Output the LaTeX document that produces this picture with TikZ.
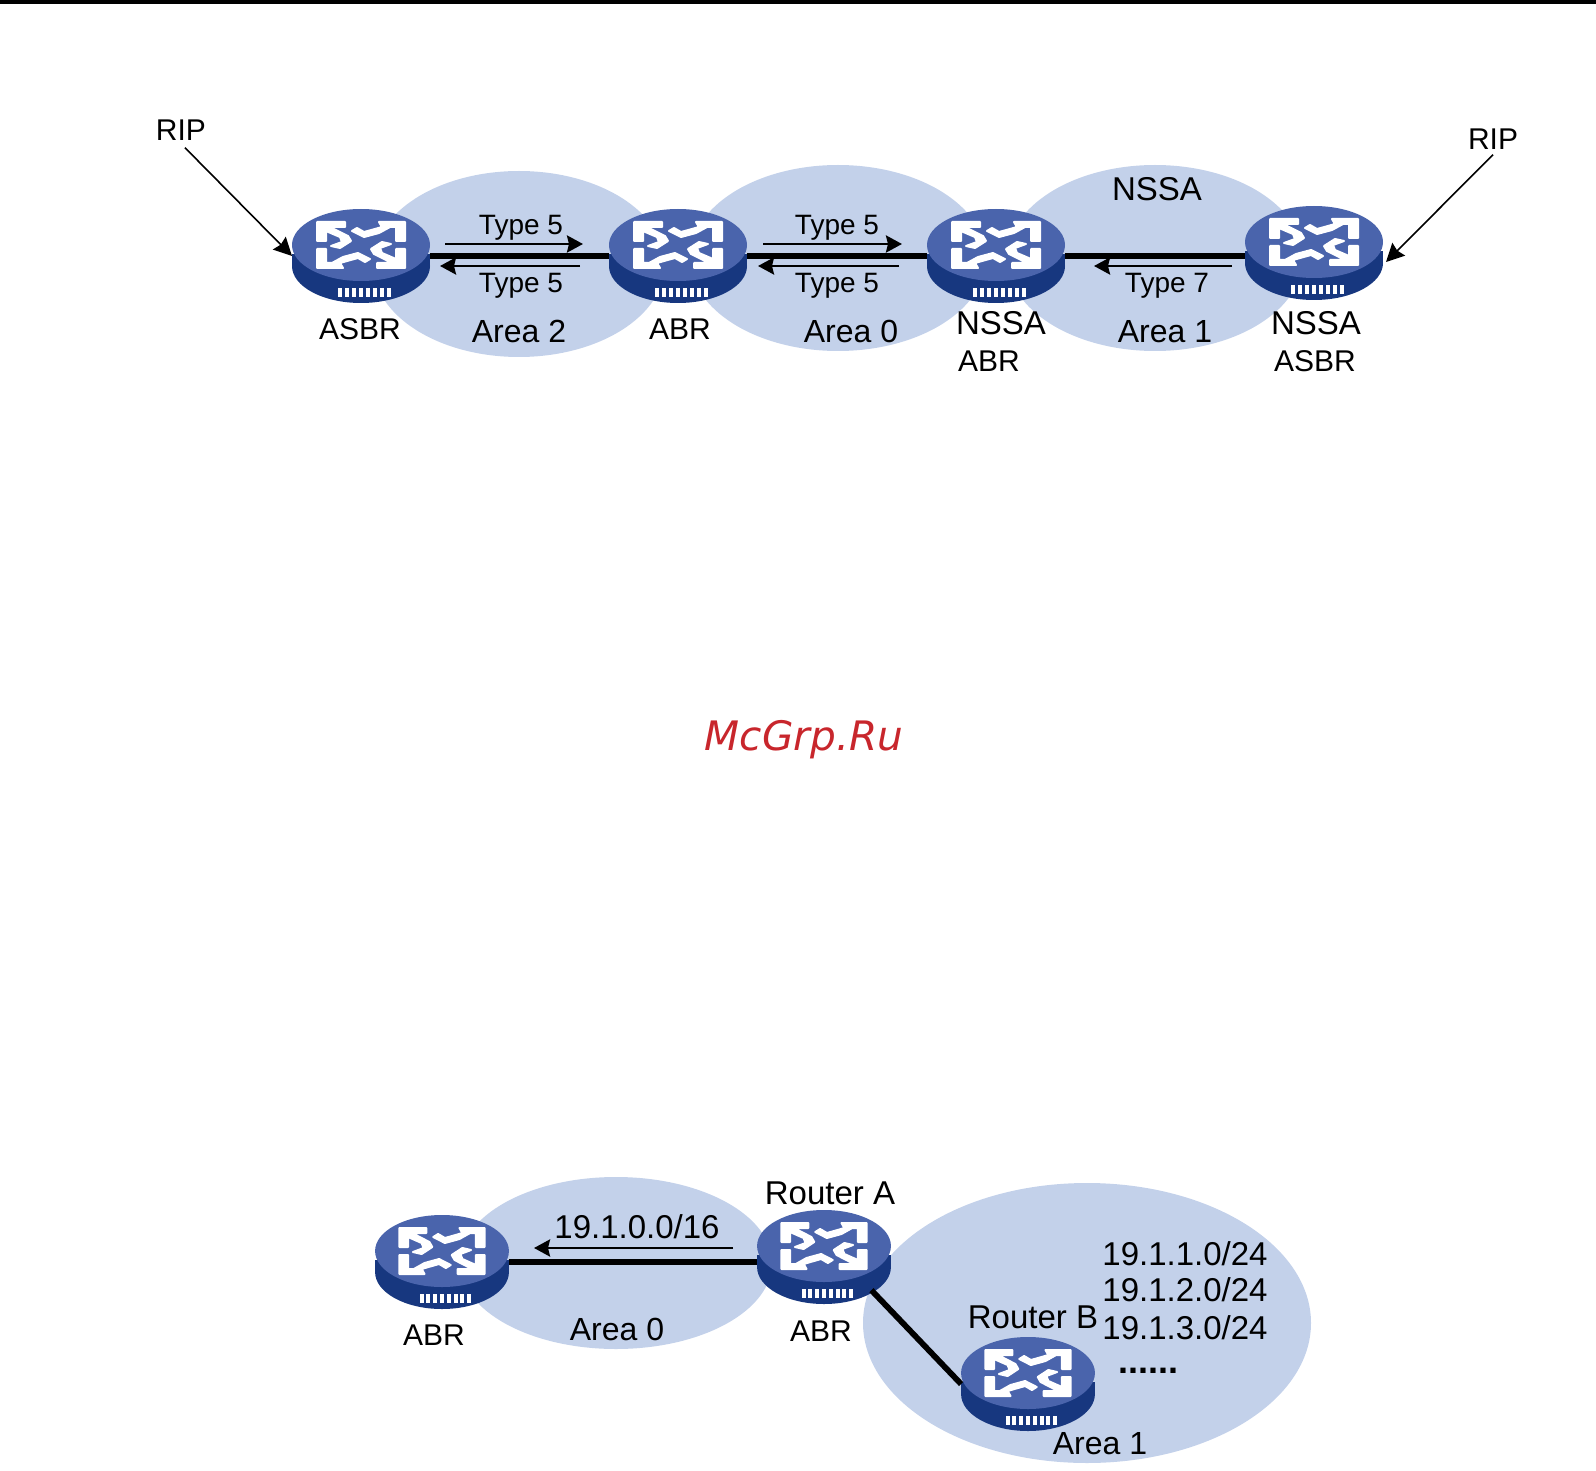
\documentclass[tikz,border=0pt]{standalone}
\usepackage{fontspec}
\setmainfont{Liberation Sans}
\usetikzlibrary{shapes.geometric,arrows.meta}
\definecolor{cloudblue}{HTML}{C3D1EA}
\definecolor{routertop}{HTML}{4A64AC}
\definecolor{routerside}{HTML}{17377F}
\definecolor{markred}{HTML}{C8262C}
\tikzset{
	router/.style = {ellipse, inner sep=0pt, outer sep=0pt,
	                 minimum width=#1*69pt, minimum height=47pt},
	router/.default = 1,
	labsmall/.style = {font=\fontsize{14}{14}\selectfont, inner sep=0pt},
	lab/.style = {font=\fontsize{15}{15}\selectfont, inner sep=0pt},
	labmid/.style = {font=\fontsize{16}{16}\selectfont, inner sep=0pt},
	labbig/.style = {font=\fontsize{16.5}{16.5}\selectfont, inner sep=0pt},
	link/.style = {line width=2.9pt, black},
	lsa/.style = {line width=1.4pt, black, -{Stealth[length=8pt,width=8.5pt,inset=1pt]}},
	redist/.style = {line width=0.8pt, black, -{Stealth[length=9pt,width=9pt,inset=1pt]}}
}
% name, x, y, width factor
\newcommand{\routerbox}[4]{
	\begin{scope}[shift={(#2,#3)}, xscale=#4]
		\fill[routerside] (-69,-2) rectangle (69,12);
		\fill[routerside] (0,10) ellipse [x radius=69, y radius=37];
		\fill[routertop] (0,-11) ellipse [x radius=69, y radius=36];
		% Arrows of the icon
		\foreach \r in {0,180} {
			\begin{scope}[shift={(0,-11)}, rotate=\r]
				\fill[white, draw=white, line width=1pt, line join=round]
					(-44,-23) -- (-16,-23) -- (-16,-18) -- (-31,-18) -- (-13,-9)
					-- (-10,-4) -- (-21,3) -- (-30,1) -- (-19,-3) -- (-21,-8) -- (-35,-14)
					-- (-35,-4) -- (-44,-4) -- cycle;
				\fill[white, draw=white, line width=1pt, line join=round]
					(44,-23) -- (18,-23) -- (21,-18) -- (29,-18) -- (18,-12)
					-- (3,-8) -- (-9,-14) -- (-4,-17) -- (3,-13) -- (14,-16) -- (21,-18)
					-- (35,-18) -- (35,-4) -- (44,-4) -- cycle;
			\end{scope}
		}
		% Plate on the side
		\foreach \t in {-23,-16,-9,-2,5,12,19,26} {
			\fill[white] (\t,32) rectangle (\t+4,41);
		}
	\end{scope}
	\node[router=#4] (#1) at (#2,#3) {};
}

\begin{document}
\begin{tikzpicture}[x=0.5pt,y=-0.5pt]
	\def \topy{256}
	\def \boty{1262}

	\useasboundingbox (0,0) rectangle (1596,1471);
	\fill[black] (0,0) rectangle (1596,4);

	% Areas, upper picture
	\fill[cloudblue] (519,264) ellipse [x radius=146, y radius=93];
	\fill[cloudblue] (838,258) ellipse [x radius=148, y radius=93];
	\fill[cloudblue] (1155,258) ellipse [x radius=148, y radius=93];

	% Areas, lower picture
	\fill[cloudblue] (616,1263) ellipse [x radius=156, y radius=86];
	\fill[cloudblue] (1087,1323) ellipse [x radius=224, y radius=140];

	% Routers
	\routerbox{asbr}{361}{\topy}{1}
	\routerbox{abr}{678}{\topy}{1}
	\routerbox{nabr}{996}{\topy}{1}
	\routerbox{nasbr}{1314}{253}{1}
	\routerbox{abrleft}{442}{\boty}{0.97}
	\routerbox{routera}{824}{1257}{0.97}
	\routerbox{routerb}{1028}{1384}{0.97}

	% Links
	\draw[link] (asbr) -- (abr);
	\draw[link] (abr) -- (nabr);
	\draw[link] (nabr.east) -- (nabr.east -| nasbr.west);
	\draw[link] (abrleft.east) -- (abrleft.east -| routera.west);
	\draw[link] (routera.-35) -- (routerb.west);

	% Labels, upper picture
	\node[lab] (ripleft) at (181,130) {RIP};
	\node[lab] (ripright) at (1493,139) {RIP};
	\node[labsmall] (typea) at (521,228) {Type 5};
	\node[labsmall] (typeb) at (521,286) {Type 5};
	\node[labsmall] (typec) at (837,228) {Type 5};
	\node[labsmall] (typed) at (837,286) {Type 5};
	\node[labsmall] (typee) at (1167,286) {Type 7};
	\node[lab] (lasbr) at (360,329) {ASBR};
	\node[lab] (labr) at (680,329) {ABR};
	\node[labmid] (areatwo) at (519,331) {Area 2};
	\node[labmid] (areazero) at (851,331) {Area 0};
	\node[labmid] (areaone) at (1165,332) {Area 1};
	\node[labbig] (nssa) at (1157,189) {NSSA};
	\node[labbig] (lnssaa) at (1001,323) {NSSA};
	\node[lab] (lnabr) at (989,361) {ABR};
	\node[labbig] (lnssab) at (1316,323) {NSSA};
	\node[lab] (lnasbr) at (1315,361) {ASBR};

	% Arrows, upper picture
	\coordinate (lsaa) at (445,244);
	\coordinate (lsab) at (583,244);
	\coordinate (lsac) at (580,266);
	\coordinate (lsad) at (440,266);
	\coordinate (lsae) at (763,244);
	\coordinate (lsaf) at (902,244);
	\coordinate (lsag) at (899,266);
	\coordinate (lsah) at (758,266);
	\coordinate (lsai) at (1232,266);
	\coordinate (lsaj) at (1094,266);
	\coordinate (ripend) at (1386,262);
	\draw[lsa] (lsaa) -- (lsab);
	\draw[lsa] (lsac) -- (lsad);
	\draw[lsa] (lsae) -- (lsaf);
	\draw[lsa] (lsag) -- (lsah);
	\draw[lsa] (lsai) -- (lsaj);
	\draw[redist] (ripleft.south) ++(4,7) -- (asbr.west);
	\draw[redist] (ripright.south) ++(0,5) -- (ripend);

	% Labels, lower picture
	\node[labbig] (routeral) at (830,1193) {Router A};
	\node[labbig] (routerbl) at (1033,1317) {Router B};
	\node[labbig] (summary) at (637,1227) {19.1.0.0/16};
	\node[lab] (labrl) at (434,1335) {ABR};
	\node[lab] (labra) at (821,1331) {ABR};
	\node[labmid] (areazerob) at (617,1329) {Area 0};
	\node[labbig] (neta) at (1185,1254) {19.1.1.0/24};
	\node[labbig] (netb) at (1185,1290) {19.1.2.0/24};
	\node[labbig] (netc) at (1185,1328) {19.1.3.0/24};
	\node[font=\fontsize{18}{18}\selectfont\bfseries, inner sep=0pt] (netd) at (1148,1371) {......};
	\node[labmid] (areaoneb) at (1100,1444) {Area 1};

	% Summary arrow
	\coordinate (suma) at (733,1248);
	\coordinate (sumb) at (534,1248);
	\draw[lsa] (suma) -- (sumb);

	% Mark in the middle
	\node[text=markred, inner sep=0pt] (mark) at (804,740)
		{\setmainfont{DejaVu Sans}\fontsize{20.3}{20.3}\selectfont\itshape McGrp.Ru};
\end{tikzpicture}
\end{document}
